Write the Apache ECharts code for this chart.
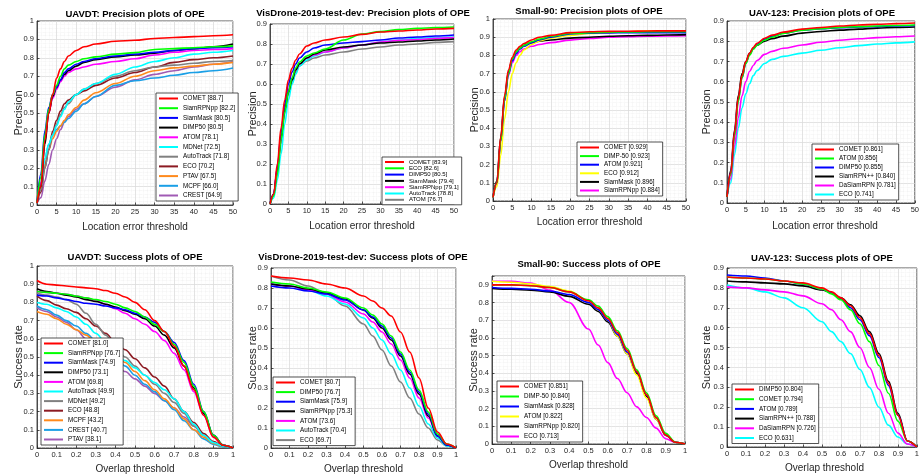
<!DOCTYPE html>
<html><head><meta charset="utf-8">
<script src="https://cdn.jsdelivr.net/npm/echarts@6/dist/echarts.min.js"></script>
<style>html,body{margin:0;padding:0;background:#fff}#c{width:922px;height:476px}</style>
</head><body><div id="c"></div>
<script>
// ---------- DATA ----------
const precX = [0,1,2,3,4,5,6,7,8,10,12,15,20,25,30,35,40,45,50];
const succXFine = [0,0.05,0.1,0.15,0.2,0.25,0.3,0.35,0.4,0.45,0.5,0.55,0.6,0.65,0.7,0.75,0.8,0.85,0.9,0.95,1];
const succX = [0,0.1,0.2,0.3,0.4,0.5,0.55,0.6,0.65,0.7,0.75,0.8,0.85,0.9,0.95,1];

const titles = [
  'UAVDT: Precision plots of OPE',
  'VisDrone-2019-test-dev: Precision plots of OPE',
  'Small-90: Precision plots of OPE',
  'UAV-123: Precision plots of OPE',
  'UAVDT: Success plots of OPE',
  'VisDrone-2019-test-dev: Success plots of OPE',
  'Small-90: Success plots of OPE',
  'UAV-123: Success plots of OPE'
];
const precXName = 'Location error threshold';
const precYName = 'Precision';
const succXName = 'Overlap threshold';
const succYName = 'Success rate';

// UAVDT precision
const uavdtPrecLabels = ['COMET [88.7]','SiamRPNpp [82.2]','SiamMask [80.5]','DIMP50 [80.5]','ATOM [78.1]','MDNet [72.5]','AutoTrack [71.8]','ECO [70.2]','PTAV [67.5]','MCPF [66.0]','CREST [64.9]'];
const uavdtPrecValues = [
  [0.01,0.10,0.35,0.50,0.60,0.69,0.74,0.78,0.81,0.84,0.86,0.875,0.89,0.895,0.905,0.91,0.915,0.92,0.925],
  [0.01,0.15,0.38,0.52,0.60,0.65,0.70,0.74,0.76,0.78,0.795,0.805,0.82,0.828,0.845,0.85,0.855,0.86,0.865],
  [0.01,0.17,0.40,0.53,0.60,0.64,0.68,0.72,0.74,0.765,0.78,0.795,0.81,0.82,0.83,0.84,0.85,0.855,0.86],
  [0.01,0.10,0.33,0.50,0.59,0.64,0.68,0.71,0.73,0.755,0.775,0.79,0.805,0.815,0.825,0.84,0.85,0.86,0.875],
  [0.01,0.12,0.35,0.50,0.58,0.63,0.67,0.70,0.72,0.74,0.75,0.765,0.78,0.795,0.815,0.83,0.84,0.845,0.85],
  [0.01,0.12,0.25,0.33,0.38,0.43,0.48,0.52,0.56,0.60,0.63,0.66,0.71,0.75,0.78,0.80,0.82,0.83,0.84],
  [0.01,0.08,0.20,0.30,0.38,0.44,0.49,0.53,0.55,0.60,0.63,0.66,0.70,0.73,0.75,0.76,0.77,0.78,0.785],
  [0.01,0.07,0.20,0.30,0.40,0.46,0.51,0.55,0.57,0.60,0.62,0.65,0.69,0.72,0.75,0.775,0.79,0.80,0.81],
  [0.01,0.10,0.22,0.30,0.36,0.40,0.43,0.46,0.49,0.53,0.57,0.61,0.66,0.70,0.73,0.745,0.755,0.765,0.775],
  [0.01,0.12,0.25,0.33,0.38,0.41,0.43,0.45,0.47,0.51,0.55,0.59,0.65,0.675,0.69,0.705,0.72,0.73,0.745],
  [0.01,0.04,0.13,0.22,0.30,0.36,0.41,0.45,0.48,0.52,0.55,0.59,0.64,0.68,0.71,0.73,0.75,0.765,0.78]
];

// VisDrone precision
const visPrecLabels = ['COMET [83.9]','ECO [82.6]','DIMP50 [80.5]','SiamMask [79.4]','SiamRPNpp [79.1]','AutoTrack [78.8]','ATOM [76.7]'];
const visPrecValues = [
  [0,0.05,0.20,0.38,0.52,0.62,0.68,0.72,0.75,0.79,0.805,0.82,0.835,0.848,0.86,0.865,0.87,0.875,0.878],
  [0,0.04,0.15,0.32,0.46,0.56,0.63,0.68,0.71,0.74,0.755,0.775,0.82,0.85,0.862,0.872,0.878,0.882,0.885],
  [0,0.05,0.18,0.35,0.50,0.60,0.66,0.70,0.73,0.76,0.78,0.795,0.805,0.812,0.82,0.83,0.835,0.84,0.845],
  [0,0.05,0.17,0.33,0.47,0.56,0.62,0.67,0.70,0.73,0.75,0.77,0.785,0.795,0.805,0.81,0.815,0.82,0.825],
  [0,0.05,0.18,0.34,0.48,0.57,0.63,0.67,0.70,0.73,0.745,0.76,0.78,0.795,0.81,0.818,0.822,0.828,0.832],
  [0,0.03,0.12,0.25,0.40,0.52,0.60,0.65,0.69,0.72,0.74,0.76,0.78,0.795,0.81,0.82,0.828,0.832,0.835],
  [0,0.04,0.15,0.30,0.45,0.55,0.61,0.66,0.69,0.715,0.73,0.745,0.76,0.775,0.785,0.795,0.80,0.808,0.812]
];

// Small-90 precision
const smallPrecLabels = ['COMET [0.929]','DIMP-50 [0.923]','ATOM [0.921]','ECO [0.912]','SiamMask [0.896]','SiamRPNpp [0.884]'];
const smallPrecValues = [
  [0.02,0.10,0.35,0.58,0.72,0.79,0.83,0.85,0.865,0.885,0.90,0.91,0.925,0.93,0.932,0.933,0.934,0.935,0.935],
  [0.02,0.10,0.33,0.56,0.70,0.78,0.82,0.84,0.855,0.875,0.89,0.905,0.92,0.925,0.928,0.929,0.93,0.93,0.93],
  [0.02,0.10,0.33,0.55,0.70,0.77,0.81,0.835,0.85,0.87,0.885,0.90,0.918,0.922,0.924,0.925,0.925,0.925,0.925],
  [0.02,0.08,0.25,0.45,0.60,0.70,0.76,0.80,0.83,0.86,0.88,0.895,0.91,0.92,0.925,0.93,0.935,0.935,0.935],
  [0.02,0.11,0.35,0.57,0.71,0.78,0.82,0.84,0.855,0.87,0.878,0.885,0.895,0.90,0.905,0.908,0.91,0.912,0.914],
  [0.02,0.10,0.33,0.55,0.69,0.76,0.80,0.82,0.835,0.85,0.86,0.87,0.884,0.893,0.90,0.903,0.905,0.907,0.908]
];

// UAV-123 precision
const uav123PrecLabels = ['COMET [0.861]','ATOM [0.856]','DIMP50 [0.855]','SiamRPN++ [0.840]','DaSiamRPN [0.781]','ECO [0.741]'];
const uav123PrecValues = [
  [0.03,0.15,0.35,0.52,0.63,0.70,0.74,0.77,0.79,0.815,0.83,0.845,0.86,0.868,0.875,0.88,0.884,0.887,0.89],
  [0.03,0.14,0.33,0.50,0.62,0.69,0.73,0.76,0.78,0.805,0.82,0.838,0.855,0.862,0.868,0.872,0.875,0.878,0.88],
  [0.03,0.15,0.34,0.51,0.62,0.69,0.735,0.765,0.785,0.81,0.825,0.84,0.855,0.862,0.867,0.87,0.873,0.876,0.878],
  [0.03,0.16,0.36,0.53,0.64,0.70,0.74,0.765,0.78,0.80,0.813,0.825,0.84,0.848,0.855,0.86,0.865,0.868,0.87],
  [0.03,0.12,0.28,0.42,0.53,0.60,0.65,0.68,0.705,0.735,0.75,0.765,0.781,0.795,0.805,0.812,0.818,0.822,0.826],
  [0.03,0.10,0.24,0.37,0.47,0.54,0.59,0.63,0.655,0.69,0.71,0.725,0.741,0.755,0.768,0.778,0.786,0.792,0.797]
];

// UAVDT success (fine x)
const uavdtSuccLabels = ['COMET [81.0]','SiamRPNpp [76.7]','SiamMask [74.9]','DIMP50 [73.1]','ATOM [69.8]','AutoTrack [49.9]','MDNet [49.2]','ECO [48.8]','MCPF [43.2]','CREST [40.7]','PTAV [38.1]'];
const uavdtSuccValues = [
  [0.92,0.90,0.895,0.89,0.885,0.88,0.875,0.865,0.85,0.83,0.80,0.76,0.70,0.64,0.56,0.45,0.32,0.18,0.06,0.015,0],
  [0.86,0.855,0.85,0.845,0.835,0.825,0.815,0.805,0.79,0.77,0.75,0.72,0.68,0.64,0.57,0.47,0.34,0.20,0.07,0.015,0],
  [0.84,0.835,0.825,0.815,0.805,0.795,0.79,0.78,0.77,0.76,0.74,0.72,0.69,0.64,0.58,0.48,0.35,0.20,0.07,0.015,0],
  [0.875,0.86,0.85,0.84,0.83,0.815,0.805,0.79,0.775,0.755,0.735,0.71,0.67,0.62,0.55,0.45,0.33,0.19,0.07,0.015,0],
  [0.86,0.855,0.85,0.845,0.835,0.825,0.81,0.79,0.765,0.74,0.71,0.68,0.64,0.59,0.52,0.43,0.31,0.18,0.06,0.015,0],
  [0.80,0.79,0.77,0.75,0.72,0.68,0.63,0.58,0.53,0.48,0.44,0.40,0.36,0.32,0.27,0.20,0.13,0.07,0.03,0.01,0],
  [0.85,0.84,0.83,0.815,0.79,0.74,0.68,0.62,0.56,0.50,0.45,0.40,0.35,0.30,0.25,0.19,0.12,0.07,0.03,0.01,0],
  [0.835,0.81,0.785,0.765,0.745,0.71,0.67,0.63,0.58,0.54,0.49,0.44,0.39,0.34,0.27,0.20,0.14,0.08,0.035,0.01,0],
  [0.75,0.735,0.71,0.68,0.65,0.62,0.58,0.55,0.51,0.47,0.42,0.37,0.32,0.27,0.22,0.16,0.10,0.06,0.025,0.008,0],
  [0.78,0.76,0.73,0.70,0.67,0.63,0.59,0.55,0.50,0.45,0.40,0.35,0.31,0.26,0.21,0.15,0.10,0.05,0.02,0.005,0],
  [0.77,0.75,0.72,0.69,0.65,0.60,0.55,0.50,0.46,0.42,0.38,0.34,0.30,0.26,0.22,0.17,0.12,0.07,0.03,0.01,0]
];

// VisDrone success
const visSuccLabels = ['COMET [80.7]','DIMP50 [76.7]','SiamMask [75.9]','SiamRPNpp [75.3]','ATOM [73.6]','AutoTrack [70.4]','ECO [69.7]'];
const visSuccValues = [
  [0.86,0.85,0.84,0.82,0.80,0.76,0.735,0.70,0.66,0.58,0.48,0.35,0.20,0.08,0.02,0],
  [0.83,0.82,0.80,0.78,0.75,0.70,0.665,0.62,0.56,0.48,0.39,0.29,0.18,0.07,0.02,0],
  [0.81,0.80,0.785,0.77,0.74,0.69,0.655,0.61,0.55,0.47,0.38,0.28,0.17,0.06,0.015,0],
  [0.82,0.81,0.795,0.775,0.745,0.69,0.65,0.60,0.54,0.46,0.37,0.27,0.16,0.06,0.015,0],
  [0.82,0.81,0.79,0.77,0.73,0.67,0.63,0.58,0.52,0.44,0.35,0.25,0.15,0.06,0.015,0],
  [0.82,0.81,0.79,0.76,0.72,0.65,0.60,0.54,0.47,0.39,0.30,0.21,0.12,0.05,0.01,0],
  [0.86,0.84,0.81,0.77,0.71,0.62,0.56,0.49,0.41,0.33,0.25,0.17,0.10,0.04,0.01,0]
];

// Small-90 success
const smallSuccLabels = ['COMET [0.851]','DIMP-50 [0.840]','SiamMask [0.828]','ATOM [0.822]','SiamRPNpp [0.820]','ECO [0.713]'];
const smallSuccValues = [
  [0.90,0.90,0.895,0.885,0.86,0.81,0.77,0.71,0.63,0.53,0.41,0.28,0.15,0.05,0.01,0],
  [0.90,0.90,0.895,0.885,0.86,0.815,0.78,0.72,0.64,0.54,0.42,0.29,0.16,0.06,0.01,0],
  [0.885,0.88,0.875,0.865,0.845,0.80,0.76,0.70,0.62,0.52,0.41,0.28,0.15,0.05,0.01,0],
  [0.92,0.915,0.905,0.89,0.865,0.81,0.76,0.70,0.61,0.51,0.39,0.26,0.14,0.05,0.01,0],
  [0.88,0.875,0.87,0.86,0.835,0.79,0.75,0.69,0.61,0.51,0.40,0.27,0.14,0.05,0.01,0],
  [0.92,0.92,0.91,0.87,0.80,0.65,0.56,0.46,0.37,0.29,0.21,0.15,0.09,0.03,0.01,0]
];

// UAV-123 success
const uav123SuccLabels = ['DIMP50 [0.804]','COMET [0.794]','ATOM [0.789]','SiamRPN++ [0.788]','DaSiamRPN [0.726]','ECO [0.631]'];
const uav123SuccValues = [
  [0.855,0.85,0.845,0.835,0.825,0.80,0.78,0.75,0.71,0.65,0.57,0.46,0.32,0.16,0.03,0],
  [0.855,0.85,0.845,0.835,0.82,0.795,0.77,0.74,0.69,0.62,0.53,0.41,0.27,0.13,0.03,0],
  [0.865,0.86,0.85,0.835,0.82,0.795,0.775,0.745,0.70,0.64,0.56,0.45,0.31,0.16,0.03,0],
  [0.835,0.83,0.825,0.82,0.81,0.79,0.775,0.75,0.715,0.66,0.58,0.47,0.33,0.17,0.03,0],
  [0.805,0.80,0.79,0.78,0.76,0.72,0.69,0.64,0.58,0.50,0.40,0.29,0.17,0.07,0.015,0],
  [0.815,0.80,0.78,0.75,0.70,0.63,0.58,0.53,0.47,0.39,0.30,0.20,0.11,0.05,0.015,0]
];

// ---------- STYLE / LAYOUT ----------
const C = {red:'#ff0000',green:'#00ff00',blue:'#0000ff',black:'#000000',magenta:'#ff00ff',cyan:'#00ffff',gray:'#808080',darkred:'#8c1a22',orange:'#ff8a1c',sky:'#1a9fe6',purple:'#a05ab4',yellow:'#ffff00'};
const col11 = [C.red,C.green,C.blue,C.black,C.magenta,C.cyan,C.gray,C.darkred,C.orange,C.sky,C.purple];
const col7 = [C.red,C.green,C.blue,C.black,C.magenta,C.cyan,C.gray];
const colSmall = [C.red,C.green,C.blue,C.yellow,C.black,C.magenta];
const col6 = [C.red,C.green,C.blue,C.black,C.magenta,C.cyan];

const panels = [
  {x:precX, labels:uavdtPrecLabels, values:uavdtPrecValues, colors:col11, prec:true, ymax:1,
   grid:{left:37,top:21,width:196,height:184}, title:[135,14], ylabX:19, xlabY:227, leg:{left:156,top:93,lh:7,gap:2.7}},
  {x:precX, labels:visPrecLabels, values:visPrecValues, colors:col7, prec:true, ymax:0.9,
   grid:{left:270,top:24,width:184,height:180}, title:[363,13], ylabX:253, xlabY:226, leg:{left:382,top:157,lh:5.8,gap:0.3}},
  {x:precX, labels:smallPrecLabels, values:smallPrecValues, colors:colSmall, prec:true, ymax:1,
   grid:{left:493,top:19,width:193,height:182}, title:[589,11], ylabX:475, xlabY:222, leg:{left:577,top:142,lh:7,gap:1.6}},
  {x:precX, labels:uav123PrecLabels, values:uav123PrecValues, colors:col6, prec:true, ymax:0.9,
   grid:{left:727,top:21,width:196,height:182}, title:[822,13], ylabX:707, xlabY:226, leg:{left:812,top:144,lh:7,gap:2}},
  {x:succXFine, labels:uavdtSuccLabels, values:uavdtSuccValues, colors:col11, prec:false, ymax:1,
   grid:{left:37,top:266,width:196,height:182}, title:[135,257], ylabX:19, xlabY:469, leg:{left:41,top:338,lh:7,gap:2.6}},
  {x:succX, labels:visSuccLabels, values:visSuccValues, colors:col7, prec:false, ymax:0.9,
   grid:{left:271,top:268,width:185,height:180}, title:[363,257], ylabX:253, xlabY:469, leg:{left:273,top:377,lh:7,gap:2.6}},
  {x:succX, labels:smallSuccLabels, values:smallSuccValues, colors:colSmall, prec:false, ymax:0.95,
   grid:{left:492,top:276,width:193,height:168}, title:[589,264], ylabX:474, xlabY:465, leg:{left:497,top:381,lh:7,gap:3}},
  {x:succX, labels:uav123SuccLabels, values:uav123SuccValues, colors:col6, prec:false, ymax:0.9,
   grid:{left:727,top:268,width:195,height:179}, title:[822,258], ylabX:707, xlabY:468, leg:{left:732,top:384,lh:7,gap:2.7}}
];

const FONT = '"Liberation Sans", Arial, sans-serif';
const tenths = v => Math.abs(v*10 - Math.round(v*10)) < 1e-6 ? String(Math.round(v*10)/10) : '';
const axisCommon = {
  axisLine:{show:true,onZero:false,lineStyle:{color:'#262626',width:0.8}},
  axisTick:{show:true,inside:true,length:2.5,lineStyle:{color:'#262626',width:0.8}},
  splitLine:{show:true,lineStyle:{color:'#dcdcdc',width:0.8}},
  minorTick:{show:false,splitNumber:5},
  minorSplitLine:{show:true,lineStyle:{color:'#ececec',width:0.6,type:'dotted'}}
};
const labelStyle = {fontSize:7.5,color:'#262626',margin:3,fontFamily:FONT};

const grids=[], xAxes=[], yAxes=[], series=[], legends=[], graphics=[];
panels.forEach((p,i)=>{
  grids.push(Object.assign({show:true,borderColor:'#262626',borderWidth:0.8,backgroundColor:'#fff',containLabel:false}, p.grid));
  xAxes.push(Object.assign({}, axisCommon, {gridIndex:i,type:'value',min:0,max:p.prec?50:1,interval:p.prec?5:0.1,
    axisLabel:Object.assign({}, labelStyle, p.prec?{}:{formatter:tenths})}));
  yAxes.push(Object.assign({}, axisCommon, {gridIndex:i,type:'value',min:0,max:p.ymax,interval:0.1,
    axisLabel:Object.assign({}, labelStyle, {formatter:tenths})}));
  const names=[];
  p.labels.forEach((lab,k)=>{
    const nm = 'p'+i+'|'+lab;
    names.push(nm);
    series.push({
      type:'line', name:nm, xAxisIndex:i, yAxisIndex:i,
      data:p.x.map((xv,j)=>[xv,p.values[k][j]]),
      symbol:'none', smooth:0.35, smoothMonotone:'x',
      lineStyle:{color:p.colors[k],width:1.6}, itemStyle:{color:p.colors[k]},
      z:2+(p.labels.length-k), animation:false
    });
  });
  legends.push({
    orient:'vertical', left:p.leg.left, top:p.leg.top, data:names,
    formatter:n=>n.split('|')[1], icon:'rect', itemWidth:19, itemHeight:2,
    itemGap:p.leg.gap, padding:[2,3,2,3], selectedMode:false,
    borderColor:'#262626', borderWidth:0.8, backgroundColor:'#fff', z:30,
    textStyle:{fontSize:p.leg.lh<7?6:6.3,lineHeight:p.leg.lh,color:'#000',fontFamily:FONT}
  });
  const gy = p.grid.top+p.grid.height/2, gx = p.grid.left+p.grid.width/2;
  graphics.push(
    {type:'text',x:p.title[0],y:p.title[1],z:50,style:{text:titles[i],font:'bold 9.5px '+FONT,fill:'#000',align:'center',verticalAlign:'middle',textAlign:'center',textVerticalAlign:'middle'}},
    {type:'text',x:p.ylabX,y:gy,rotation:Math.PI/2,z:50,style:{text:p.prec?precYName:succYName,font:'11px '+FONT,fill:'#262626',align:'center',verticalAlign:'middle',textAlign:'center',textVerticalAlign:'middle'}},
    {type:'text',x:gx,y:p.xlabY,z:50,style:{text:p.prec?precXName:succXName,font:'10px '+FONT,fill:'#262626',align:'center',verticalAlign:'middle',textAlign:'center',textVerticalAlign:'middle'}}
  );
});

const chart = echarts.init(document.getElementById('c'), null, {renderer:'canvas'});
chart.setOption({
  backgroundColor:'#fff', animation:false,
  grid:grids, xAxis:xAxes, yAxis:yAxes, series:series, legend:legends,
  graphic:{elements:graphics}
});
</script></body></html>
